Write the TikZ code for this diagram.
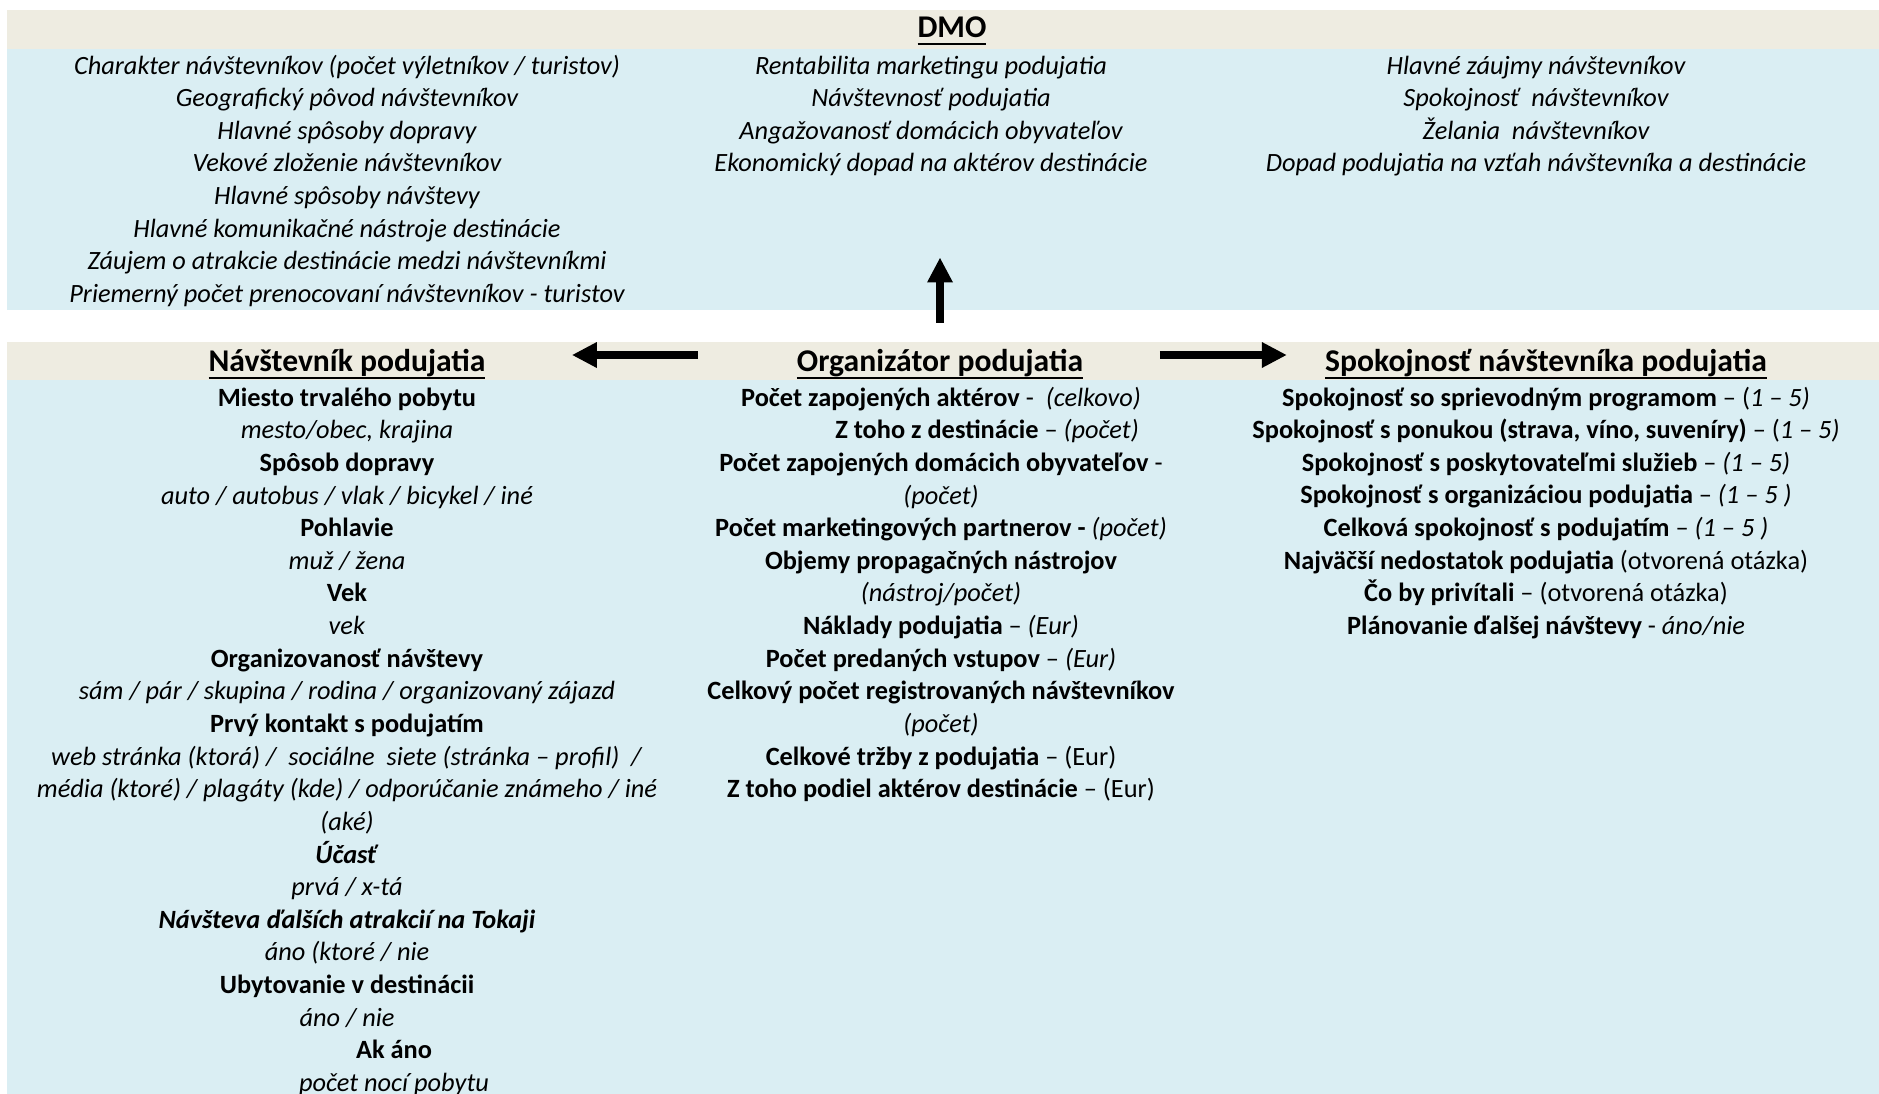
\documentclass[tikz,border=0pt]{standalone}
\usepackage{fontspec}
\setmainfont{Carlito}
\usetikzlibrary{arrows.meta}

\definecolor{headbeige}{HTML}{EEECE1}
\definecolor{listblue}{HTML}{DAEEF3}

% underlined heading text
\newcommand{\headline}[1]{\setbox0\hbox{#1}\rlap{\rule[-0.145cm]{\wd0}{0.04cm}}\box0}

\begin{document}
\begin{tikzpicture}[
        head/.style={font=\fontsize{18}{22}\selectfont\bfseries, inner sep=0pt, text height=0.9cm, text depth=0.232cm, anchor=base},
        list/.style={align=center, inner sep=0pt, font=\fontsize{15}{18.57}\selectfont, anchor=base},
        arrow/.style={-{Triangle[length=0.5cm, width=0.48cm]}, line width=0.16cm}
    ]
        \useasboundingbox (0,0) rectangle (37.58,-21.88);

        % Bands
        \fill[headbeige] (0.14,-0.2) rectangle (37.58,-0.98);
        \fill[listblue] (0.14,-0.98) rectangle (37.58,-6.2);
        \fill[headbeige] (0.14,-6.84) rectangle (37.58,-7.6);
        \fill[listblue] (0.14,-7.6) rectangle (37.58,-21.88);

        % DMO (list nodes sit on the baseline of their last line)
        \node[head] (dmo) at (19.04,-0.76) {\headline{DMO}};
        \node[list, font=\fontsize{15}{18.57}\selectfont\itshape] (dmoL) at (6.94,-6.05) {Charakter návštevníkov (počet výletníkov / turistov)\\Geografický pôvod návštevníkov\\Hlavné spôsoby dopravy\\Vekové zloženie návštevníkov\\Hlavné spôsoby návštevy\\Hlavné komunikačné nástroje destinácie\\Záujem o atrakcie destinácie medzi návštevníkmi\\Priemerný počet prenocovaní návštevníkov - turistov};
        \node[list, font=\fontsize{15}{18.57}\selectfont\itshape] (dmoM) at (18.62,-3.438) {Rentabilita marketingu podujatia\\Návštevnosť podujatia\\Angažovanosť domácich obyvateľov\\Ekonomický dopad na aktérov destinácie};
        \node[list, font=\fontsize{15}{18.57}\selectfont\itshape] (dmoR) at (30.72,-3.438) {Hlavné záujmy návštevníkov\\Spokojnosť~ návštevníkov\\Želania~ návštevníkov\\Dopad podujatia na vzťah návštevníka a destinácie};

        % Visitor
        \node[head] (visitor) at (6.94,-7.434) {\headline{Návštevník podujatia}};
        \node[list] (visitorL) at (6.94,-21.829) {\textbf{Miesto trvalého pobytu}\\\textit{mesto/obec, krajina}\\\textbf{Spôsob dopravy}\\\textit{auto / autobus / vlak / bicykel / iné}\\\textbf{Pohlavie}\\\textit{muž / žena}\\\textbf{Vek}\\\textit{vek}\\\textbf{Organizovanosť návštevy}\\\textit{sám / pár / skupina / rodina / organizovaný zájazd}\\\textbf{Prvý kontakt s podujatím}\\\textit{web stránka (ktorá) /~ sociálne~ siete (stránka – profil)~ /}\\\textit{média (ktoré) / plagáty (kde) / odporúčanie známeho / iné}\\\textit{(aké)}\\\textbf{\textit{Účasť}}\\\textit{prvá / x-tá}\\\textbf{\textit{Návšteva ďalších atrakcií na Tokaji}}\\\textit{áno (ktoré / nie}\\\textbf{Ubytovanie v destinácii}\\\textit{áno / nie}\\\hspace*{1.88cm}\textbf{Ak áno}\\\hspace*{1.88cm}\textit{počet nocí pobytu}};

        % Organizer
        \node[head] (org) at (18.8,-7.434) {\headline{Organizátor podujatia}};
        \node[list] (orgL) at (18.82,-15.954) {\textbf{Počet zapojených aktérov} -~ \textit{(celkovo)}\\\hspace*{1.84cm}\textbf{Z toho z destinácie} – \textit{(počet)}\\\textbf{Počet zapojených domácich obyvateľov} -\\\textit{(počet)}\\\textbf{Počet marketingových partnerov -} \textit{(počet)}\\\textbf{Objemy propagačných nástrojov}\\\textit{(nástroj/počet)}\\\textbf{Náklady podujatia} – \textit{(Eur)}\\\textbf{Počet predaných vstupov} – \textit{(Eur)}\\\textbf{Celkový počet registrovaných návštevníkov}\\\textit{(počet)}\\\textbf{Celkové tržby z podujatia} – (Eur)\\\textbf{Z toho podiel aktérov destinácie} – (Eur)};

        % Satisfaction
        \node[head] (satisf) at (30.92,-7.434) {\headline{Spokojnosť návštevníka podujatia}};
        \node[list] (satisfL) at (30.92,-12.69) {\textbf{Spokojnosť so sprievodným programom} – (\textit{1 – 5)}\\\textbf{Spokojnosť s ponukou (strava, víno, suveníry)} – (\textit{1 – 5)}\\\textbf{Spokojnosť s poskytovateľmi služieb} – \textit{(1 – 5)}\\\textbf{Spokojnosť s organizáciou podujatia} – \textit{(1 – 5 )}\\\textbf{Celková spokojnosť s podujatím} – \textit{(1 – 5 )}\\\textbf{Najväčší nedostatok podujatia} (otvorená otázka)\\\textbf{Čo by privítali} – (otvorená otázka)\\\textbf{Plánovanie ďalšej návštevy} - \textit{áno/nie}};

        \draw[arrow, shorten <=0.07cm, shorten >=4.15cm] (org.north) -- (org.north |- dmo.south);
        \draw[arrow, shorten <=1.97cm, shorten >=1.72cm] (org.west) -- (visitor.east);
        \draw[arrow, shorten <=1.53cm, shorten >=0.76cm] (org.east) -- (satisf.west);
    \end{tikzpicture}
\end{document}
